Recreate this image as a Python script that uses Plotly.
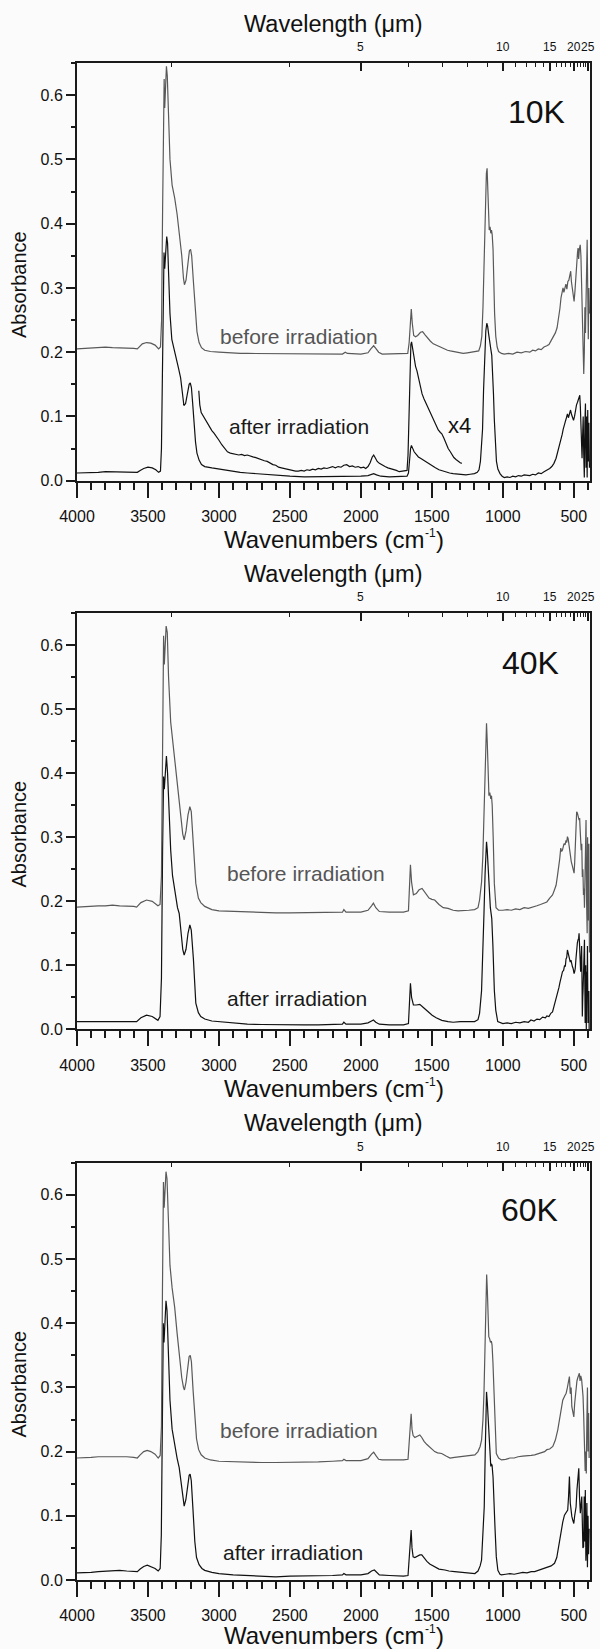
import plotly.graph_objects as go

# ---------------- data ----------------
WN_10K_BEFORE = [4000,3950,3900,3850,3800,3750,3700,3650,3600,3575,3560,3540,3510,3480,3450,3425,3412,3404,3397,3390,3386,3382,3377,3370,3364,3356,3345,3330,3312,3295,3278,3262,3250,3243,3232,3220,3208,3200,3192,3180,3168,3155,3140,3123,3100,3060,3000,2950,2900,2850,2800,2700,2600,2500,2400,2300,2200,2130,2110,2095,2000,1950,1930,1910,1895,1875,1850,1800,1750,1700,1670,1660,1652,1645,1638,1628,1615,1600,1580,1565,1548,1530,1510,1490,1470,1450,1430,1410,1390,1370,1350,1330,1300,1280,1250,1220,1190,1170,1158,1148,1140,1132,1124,1116,1111,1106,1101,1096,1090,1085,1080,1075,1069,1064,1058,1050,1040,1030,1010,990,960,930,900,870,840,810,790,770,750,730,710,690,675,660,645,630,618,608,598,590,582,576,570,563,556,549,542,535,528,522,517,511,505,498,492,486,480,474,470,466,461,455,450,446,442,438,434,430,426,422,418,414,410,406,402,398,394,390]
ABS_10K_BEFORE = [0.205,0.206,0.207,0.207,0.208,0.207,0.207,0.206,0.206,0.205,0.209,0.213,0.215,0.214,0.211,0.205,0.208,0.25,0.42,0.60,0.625,0.58,0.61,0.645,0.63,0.56,0.50,0.46,0.44,0.415,0.385,0.35,0.315,0.305,0.312,0.335,0.358,0.36,0.35,0.31,0.265,0.232,0.215,0.207,0.203,0.201,0.2,0.199,0.199,0.198,0.198,0.198,0.197,0.197,0.197,0.197,0.197,0.197,0.2,0.198,0.197,0.199,0.205,0.21,0.206,0.2,0.197,0.197,0.197,0.197,0.198,0.215,0.25,0.267,0.245,0.226,0.224,0.226,0.231,0.232,0.227,0.222,0.217,0.213,0.211,0.208,0.207,0.205,0.203,0.202,0.201,0.2,0.198,0.198,0.199,0.2,0.201,0.202,0.21,0.225,0.27,0.35,0.43,0.478,0.486,0.46,0.42,0.39,0.395,0.385,0.39,0.383,0.36,0.31,0.26,0.225,0.208,0.201,0.198,0.197,0.198,0.197,0.2,0.199,0.201,0.2,0.203,0.202,0.205,0.204,0.208,0.21,0.212,0.218,0.223,0.23,0.238,0.25,0.268,0.285,0.297,0.3,0.293,0.3,0.306,0.298,0.31,0.312,0.322,0.326,0.31,0.3,0.288,0.279,0.295,0.32,0.34,0.355,0.362,0.345,0.36,0.367,0.35,0.32,0.28,0.23,0.19,0.166,0.2,0.27,0.23,0.3,0.35,0.375,0.3,0.22,0.3,0.26]

WN_10K_AFTER = [4000,3950,3900,3850,3800,3750,3700,3650,3600,3575,3555,3530,3500,3470,3445,3425,3412,3405,3398,3392,3387,3382,3376,3368,3362,3355,3345,3332,3318,3300,3285,3270,3258,3247,3235,3222,3210,3202,3194,3185,3175,3165,3155,3140,3123,3100,3050,3000,2950,2900,2850,2800,2750,2700,2650,2600,2550,2500,2400,2300,2200,2100,2000,1950,1925,1910,1890,1860,1800,1750,1700,1675,1665,1657,1650,1644,1636,1625,1610,1595,1580,1560,1540,1520,1500,1475,1450,1425,1400,1375,1350,1320,1290,1260,1230,1200,1180,1168,1158,1150,1143,1136,1128,1120,1113,1107,1100,1092,1085,1078,1072,1066,1060,1053,1045,1035,1020,1005,990,970,950,930,910,890,870,850,830,810,790,770,750,730,710,690,670,655,640,625,612,600,590,582,575,568,560,552,545,538,530,523,516,509,502,495,488,481,474,468,462,458,454,450,446,442,438,434,430,426,422,418,414,410,406,402,398,394,390]
ABS_10K_AFTER = [0.012,0.012,0.013,0.013,0.014,0.014,0.014,0.013,0.013,0.013,0.016,0.019,0.021,0.02,0.017,0.013,0.015,0.05,0.17,0.30,0.355,0.33,0.35,0.38,0.37,0.32,0.26,0.22,0.205,0.19,0.175,0.16,0.135,0.117,0.12,0.138,0.15,0.152,0.145,0.12,0.085,0.06,0.043,0.032,0.025,0.022,0.02,0.018,0.017,0.015,0.013,0.012,0.011,0.01,0.009,0.008,0.007,0.007,0.006,0.006,0.006,0.007,0.007,0.008,0.01,0.011,0.009,0.007,0.006,0.006,0.006,0.007,0.012,0.035,0.05,0.055,0.05,0.045,0.041,0.037,0.035,0.032,0.029,0.026,0.024,0.02,0.017,0.015,0.013,0.012,0.011,0.01,0.009,0.009,0.01,0.011,0.013,0.017,0.03,0.05,0.08,0.14,0.2,0.233,0.245,0.24,0.228,0.212,0.205,0.195,0.17,0.135,0.095,0.055,0.03,0.018,0.011,0.007,0.005,0.006,0.005,0.007,0.006,0.008,0.007,0.009,0.008,0.008,0.01,0.009,0.012,0.011,0.014,0.016,0.019,0.022,0.027,0.035,0.045,0.057,0.066,0.072,0.08,0.088,0.092,0.098,0.104,0.098,0.106,0.11,0.103,0.098,0.094,0.1,0.11,0.118,0.122,0.126,0.13,0.133,0.115,0.09,0.065,0.035,0.07,0.1,0.04,0.005,0.09,0.12,0.02,0.1,0.005,0.11,0.03,0.09,0.02]

WN_10K_X4 = [3142,3135,3125,3110,3095,3080,3065,3050,3035,3020,3000,2980,2960,2940,2920,2900,2880,2860,2840,2820,2800,2780,2761,2740,2720,2700,2680,2660,2640,2620,2600,2580,2560,2540,2520,2500,2480,2460,2440,2420,2400,2380,2360,2340,2320,2300,2280,2260,2240,2220,2200,2180,2160,2140,2120,2100,2080,2060,2040,2020,2000,1980,1966,1950,1935,1920,1910,1900,1885,1870,1850,1830,1810,1790,1770,1750,1730,1710,1690,1675,1668,1661,1655,1648,1643,1635,1625,1615,1605,1595,1585,1575,1569,1555,1540,1525,1510,1499,1485,1470,1455,1440,1430,1415,1400,1385,1370,1359,1345,1330,1315,1300,1289]
ABS_10K_X4 = [0.14,0.118,0.106,0.1,0.095,0.09,0.083,0.078,0.074,0.07,0.063,0.056,0.05,0.045,0.043,0.042,0.041,0.04,0.041,0.039,0.04,0.038,0.037,0.036,0.034,0.033,0.031,0.03,0.027,0.025,0.024,0.021,0.02,0.019,0.017,0.016,0.016,0.015,0.015,0.016,0.015,0.017,0.016,0.018,0.017,0.019,0.018,0.02,0.019,0.021,0.022,0.02,0.022,0.021,0.024,0.025,0.022,0.023,0.021,0.022,0.02,0.021,0.019,0.022,0.028,0.037,0.04,0.036,0.03,0.027,0.024,0.022,0.02,0.019,0.017,0.016,0.014,0.015,0.016,0.016,0.04,0.12,0.19,0.212,0.216,0.205,0.19,0.178,0.171,0.162,0.15,0.14,0.135,0.127,0.12,0.112,0.105,0.099,0.092,0.085,0.079,0.075,0.073,0.066,0.058,0.05,0.045,0.04,0.036,0.033,0.03,0.028,0.027]

WN_40K_BEFORE = [4000,3950,3900,3850,3800,3750,3700,3650,3600,3580,3550,3510,3470,3430,3415,3405,3397,3390,3385,3380,3372,3364,3355,3340,3327,3310,3292,3270,3255,3245,3232,3218,3205,3195,3180,3163,3145,3128,3100,3050,3000,2900,2800,2700,2600,2500,2400,2300,2200,2130,2120,2105,2000,1950,1925,1912,1895,1870,1800,1700,1665,1657,1651,1643,1630,1610,1590,1569,1550,1520,1500,1480,1450,1420,1386,1350,1316,1280,1240,1199,1175,1164,1150,1141,1130,1120,1115,1110,1103,1098,1092,1085,1080,1075,1068,1060,1048,1030,1000,970,940,910,880,850,820,802,780,760,735,708,690,670,650,638,625,615,605,600,592,586,580,575,569,562,555,550,545,540,535,530,525,518,510,504,498,494,490,487,484,480,475,470,466,463,459,455,451,448,444,440,436,432,428,425,420,417,414,410,406,403,400,397,394,390]
ABS_40K_BEFORE = [0.191,0.192,0.192,0.193,0.193,0.194,0.193,0.193,0.192,0.191,0.198,0.202,0.2,0.193,0.195,0.24,0.45,0.615,0.57,0.60,0.63,0.62,0.55,0.48,0.452,0.42,0.375,0.33,0.305,0.296,0.31,0.335,0.348,0.34,0.29,0.228,0.205,0.198,0.192,0.187,0.185,0.184,0.183,0.183,0.182,0.182,0.182,0.182,0.182,0.183,0.187,0.183,0.183,0.186,0.193,0.197,0.19,0.184,0.183,0.183,0.185,0.22,0.257,0.23,0.21,0.212,0.218,0.22,0.214,0.205,0.203,0.202,0.195,0.19,0.189,0.186,0.185,0.186,0.186,0.187,0.19,0.202,0.23,0.27,0.37,0.45,0.478,0.45,0.38,0.365,0.37,0.36,0.365,0.35,0.30,0.228,0.19,0.186,0.186,0.187,0.186,0.188,0.187,0.19,0.189,0.19,0.192,0.193,0.195,0.197,0.199,0.205,0.21,0.217,0.225,0.24,0.255,0.265,0.283,0.278,0.28,0.285,0.29,0.288,0.295,0.292,0.301,0.298,0.29,0.282,0.27,0.262,0.255,0.25,0.244,0.26,0.28,0.31,0.33,0.34,0.338,0.335,0.33,0.327,0.33,0.31,0.3,0.28,0.29,0.238,0.25,0.21,0.22,0.19,0.25,0.3,0.327,0.2,0.15,0.3,0.25,0.17,0.29,0.12]

WN_40K_AFTER = [4000,3950,3900,3850,3800,3750,3700,3650,3600,3580,3550,3510,3470,3430,3415,3405,3397,3390,3385,3380,3370,3362,3352,3340,3327,3310,3292,3280,3265,3255,3245,3232,3218,3205,3195,3180,3163,3145,3128,3100,3050,3000,2900,2800,2700,2600,2500,2400,2300,2200,2130,2120,2105,2000,1950,1925,1912,1895,1870,1800,1700,1665,1657,1651,1643,1630,1610,1585,1560,1530,1498,1470,1430,1386,1350,1300,1250,1199,1175,1164,1150,1141,1133,1125,1118,1115,1110,1100,1095,1088,1082,1078,1070,1060,1050,1036,1000,970,940,910,880,850,820,802,780,760,740,720,700,690,675,662,650,640,630,620,612,605,598,592,585,580,572,565,560,555,550,545,540,535,530,525,520,515,510,505,498,494,490,485,480,475,470,466,463,458,455,452,448,445,442,440,437,435,432,430,427,425,422,420,418,416,414,412,410,408,406,404,402,400,398,396,394,392]
ABS_40K_AFTER = [0.012,0.012,0.012,0.013,0.013,0.013,0.013,0.013,0.012,0.012,0.018,0.022,0.02,0.014,0.02,0.08,0.28,0.395,0.375,0.40,0.427,0.40,0.34,0.28,0.24,0.215,0.19,0.181,0.15,0.125,0.116,0.125,0.15,0.163,0.155,0.11,0.041,0.026,0.02,0.016,0.013,0.012,0.0095,0.008,0.0075,0.007,0.007,0.007,0.007,0.007,0.008,0.011,0.008,0.008,0.01,0.013,0.0146,0.011,0.008,0.007,0.007,0.009,0.04,0.072,0.05,0.038,0.038,0.039,0.034,0.028,0.022,0.018,0.014,0.012,0.011,0.012,0.012,0.012,0.015,0.025,0.06,0.113,0.18,0.244,0.285,0.293,0.28,0.235,0.218,0.19,0.18,0.173,0.13,0.061,0.03,0.012,0.009,0.01,0.009,0.011,0.01,0.012,0.011,0.0146,0.013,0.016,0.015,0.019,0.018,0.021,0.02,0.025,0.027,0.035,0.042,0.05,0.058,0.065,0.073,0.082,0.085,0.09,0.092,0.1,0.098,0.11,0.112,0.124,0.118,0.115,0.112,0.105,0.108,0.1,0.098,0.095,0.087,0.09,0.095,0.11,0.13,0.135,0.14,0.142,0.15,0.12,0.1,0.09,0.11,0.13,0.07,0.02,0.05,0.06,0.09,0.1,0.12,0.14,0.06,0.01,0.05,0.1,0.04,0.0,0.05,0.09,0.07,0.13,0.06,0.01,0.03,0.04,0.06,0.0]

WN_60K_BEFORE = [4000,3950,3900,3850,3800,3750,3700,3650,3600,3575,3555,3530,3505,3480,3450,3428,3414,3405,3398,3391,3386,3381,3373,3366,3357,3345,3330,3312,3295,3278,3262,3250,3243,3232,3220,3210,3202,3194,3182,3170,3158,3143,3125,3100,3060,3000,2900,2800,2700,2600,2500,2400,2300,2200,2130,2120,2105,2000,1950,1925,1910,1895,1875,1850,1800,1750,1700,1668,1658,1651,1646,1640,1632,1620,1600,1585,1571,1555,1535,1515,1501,1480,1460,1431,1400,1372,1340,1310,1291,1260,1230,1197,1175,1160,1150,1140,1133,1127,1120,1114,1109,1104,1099,1093,1087,1081,1076,1070,1064,1057,1050,1046,1030,1010,980,950,920,893,860,830,800,776,750,720,706,690,670,648,630,613,600,590,578,566,554,545,537,531,525,519,514,507,500,494,488,484,478,472,466,461,456,451,445,440,435,431,428,424,420,416,412,408,404,400,396,392]
ABS_60K_BEFORE = [0.19,0.19,0.191,0.192,0.192,0.193,0.192,0.192,0.191,0.19,0.195,0.2,0.202,0.2,0.196,0.19,0.194,0.24,0.45,0.62,0.58,0.60,0.636,0.625,0.56,0.49,0.455,0.425,0.385,0.345,0.315,0.3,0.296,0.308,0.33,0.348,0.35,0.34,0.295,0.25,0.22,0.203,0.195,0.19,0.187,0.185,0.184,0.184,0.183,0.183,0.183,0.184,0.184,0.185,0.186,0.188,0.186,0.186,0.189,0.196,0.199,0.194,0.188,0.187,0.187,0.186,0.187,0.188,0.22,0.255,0.259,0.235,0.225,0.222,0.224,0.226,0.222,0.216,0.211,0.207,0.205,0.2,0.198,0.197,0.193,0.19,0.191,0.192,0.192,0.193,0.194,0.195,0.2,0.208,0.218,0.25,0.29,0.35,0.43,0.476,0.45,0.41,0.379,0.376,0.37,0.372,0.366,0.34,0.3,0.24,0.21,0.197,0.19,0.187,0.188,0.19,0.19,0.192,0.193,0.193,0.194,0.195,0.197,0.199,0.2,0.203,0.204,0.208,0.218,0.234,0.252,0.266,0.28,0.286,0.291,0.3,0.31,0.317,0.29,0.3,0.27,0.262,0.254,0.275,0.29,0.296,0.31,0.315,0.32,0.322,0.31,0.318,0.312,0.3,0.286,0.26,0.218,0.19,0.17,0.2,0.166,0.25,0.3,0.2,0.26,0.19]

WN_60K_AFTER = [4000,3950,3900,3850,3800,3750,3700,3650,3600,3575,3555,3530,3505,3480,3450,3428,3414,3406,3399,3392,3387,3381,3373,3366,3357,3345,3330,3312,3295,3280,3266,3255,3245,3233,3220,3210,3203,3195,3183,3170,3158,3140,3120,3100,3050,3000,2900,2800,2700,2646,2600,2500,2400,2300,2200,2130,2120,2105,2000,1950,1925,1905,1890,1870,1800,1750,1700,1668,1658,1652,1646,1640,1632,1620,1600,1585,1571,1555,1535,1515,1501,1480,1450,1408,1380,1340,1291,1250,1197,1175,1160,1150,1140,1131,1124,1118,1115,1109,1104,1099,1092,1085,1080,1076,1069,1062,1055,1046,1035,1020,1010,980,950,920,893,860,830,800,776,750,730,706,685,660,636,620,610,601,590,578,566,555,543,537,531,525,519,514,507,500,494,488,484,478,472,465,460,454,448,444,440,436,431,427,423,419,415,412,408,404,400,396,392]
ABS_60K_AFTER = [0.011,0.011,0.012,0.013,0.014,0.015,0.015,0.014,0.013,0.013,0.017,0.021,0.023,0.021,0.018,0.014,0.018,0.07,0.26,0.4,0.37,0.40,0.435,0.42,0.35,0.28,0.235,0.21,0.19,0.175,0.15,0.125,0.115,0.125,0.15,0.163,0.165,0.155,0.11,0.06,0.035,0.024,0.018,0.015,0.012,0.01,0.008,0.007,0.006,0.005,0.005,0.006,0.006,0.007,0.007,0.008,0.01,0.008,0.008,0.01,0.014,0.0156,0.012,0.008,0.007,0.006,0.006,0.007,0.04,0.07,0.078,0.05,0.036,0.035,0.037,0.039,0.039,0.034,0.029,0.025,0.023,0.02,0.017,0.0156,0.014,0.013,0.012,0.011,0.01,0.014,0.022,0.031,0.07,0.114,0.2,0.27,0.293,0.275,0.252,0.239,0.2,0.177,0.18,0.179,0.16,0.13,0.08,0.036,0.015,0.009,0.008,0.009,0.01,0.009,0.01,0.012,0.011,0.013,0.013,0.015,0.016,0.018,0.019,0.022,0.026,0.035,0.048,0.062,0.078,0.09,0.101,0.106,0.109,0.13,0.161,0.12,0.105,0.099,0.093,0.088,0.1,0.11,0.114,0.14,0.16,0.174,0.13,0.104,0.12,0.13,0.09,0.05,0.052,0.13,0.06,0.14,0.03,0.047,0.12,0.02,0.1,0.04,0.08]

PANEL_LABELS = ["10K", "40K", "60K"]
X_MAJOR = [4000, 3500, 3000, 2500, 2000, 1500, 1000, 500]
WL_MAJOR = [5, 10, 15, 20, 25]
WL_MINOR = [3, 4, 6, 7, 8, 9, 11, 12, 13, 14, 16, 17, 18, 19, 21, 22, 23, 24]

# ---------------- layout geometry ----------------
W, H = 600, 1649
ML, MR, MT, MB = 77, 8, 63, 69
PW, PH = W - ML - MR, H - MT - MB
BOTTOM_PX = MT + PH


def xp(px):
    return (px - ML) / PW


def yp(py):
    return (BOTTOM_PX - py) / PH


PANELS = [(63, 480.7), (613.3, 1029.3), (1162.7, 1580)]
X_RANGE = [4000, 386]
Y_RANGE = [0, 0.65]
FONT = "Liberation Sans, Arial, sans-serif"
AX = "#1a1a1a"
BEFORE_C = "#595959"
AFTER_C = "#111111"
BG = "#fbfbfb"

# x-axis title pieces (main text, raised exponent, closing bracket); widths from Arial metrics
TITLE_SIZE, SUP_SIZE = 24, 12
TITLE_START = 224.0
MAIN_W = 8.39 * TITLE_SIZE
SUP_W = 0.889 * SUP_SIZE
TITLE_CENTERS = [539.5, 1088.1, 1635.5]

series = [
    (WN_10K_BEFORE, ABS_10K_BEFORE, WN_10K_AFTER, ABS_10K_AFTER),
    (WN_40K_BEFORE, ABS_40K_BEFORE, WN_40K_AFTER, ABS_40K_AFTER),
    (WN_60K_BEFORE, ABS_60K_BEFORE, WN_60K_AFTER, ABS_60K_AFTER),
]

fig = go.Figure()
layout = dict(
    width=W, height=H, margin=dict(l=ML, r=MR, t=MT, b=MB),
    paper_bgcolor=BG, plot_bgcolor=BG, showlegend=False,
    font=dict(family=FONT, color="#111"),
)

annotations = []
for i, (top_px, bot_px) in enumerate(PANELS):
    n = i + 1
    nt = i + 4
    xb = "x" if n == 1 else f"x{n}"
    yb = "y" if n == 1 else f"y{n}"
    xt = f"x{nt}"
    dom = [yp(bot_px), yp(top_px)]
    wb, ab, wa, aa = series[i]

    # before irradiation drawn against the top (wavelength) axis, which shares the bottom axis range
    fig.add_trace(go.Scatter(x=wb, y=ab, mode="lines", xaxis=xt, yaxis=yb,
                             line=dict(color=BEFORE_C, width=1.2), hoverinfo="skip"))
    fig.add_trace(go.Scatter(x=wa, y=aa, mode="lines", xaxis=xb, yaxis=yb,
                             line=dict(color=AFTER_C, width=1.2), hoverinfo="skip"))
    if n == 1:
        fig.add_trace(go.Scatter(x=WN_10K_X4, y=ABS_10K_X4, mode="lines", xaxis=xb, yaxis=yb,
                                 line=dict(color=AFTER_C, width=1.2), hoverinfo="skip"))

    xkey = "xaxis" if n == 1 else f"xaxis{n}"
    ykey = "yaxis" if n == 1 else f"yaxis{n}"
    layout[xkey] = dict(
        domain=[0, 1], anchor=yb, range=X_RANGE, showgrid=False, zeroline=False,
        showline=True, linewidth=2, linecolor=AX,
        ticks="outside", ticklen=15, tickwidth=1.5, tickcolor=AX,
        tickmode="array", tickvals=X_MAJOR, ticktext=[str(v) for v in X_MAJOR],
        tickangle=0, ticklabeloverflow="allow",
        tickfont=dict(size=16, family=FONT, color="#111"), ticklabelstandoff=5,
        minor=dict(ticks="outside", ticklen=7, tickwidth=1.5, tickcolor=AX,
                   tickmode="linear", tick0=0, dtick=100, showgrid=False),
    )
    layout[f"xaxis{nt}"] = dict(
        overlaying=xb, anchor=yb, side="top", range=X_RANGE, showgrid=False, zeroline=False,
        showline=True, linewidth=2, linecolor=AX,
        ticks="inside", ticklen=8, tickwidth=1.5, tickcolor=AX,
        tickmode="array", tickvals=[1e4 / w for w in WL_MAJOR],
        showticklabels=False,
        minor=dict(ticks="inside", ticklen=4, tickwidth=1.2, tickcolor=AX,
                   tickmode="array", tickvals=[1e4 / w for w in WL_MINOR], showgrid=False),
    )
    layout[ykey] = dict(
        domain=dom, anchor=xb, range=Y_RANGE, showgrid=False, zeroline=False,
        showline=True, linewidth=2, linecolor=AX, mirror=True,
        ticks="outside", ticklen=9, tickwidth=1.5, tickcolor=AX,
        tickmode="linear", tick0=0, dtick=0.1, tickformat=".1f",
        tickfont=dict(size=16, family=FONT, color="#111"),
        minor=dict(ticks="outside", ticklen=4, tickwidth=1.5, tickcolor=AX,
                   tickmode="linear", tick0=0, dtick=0.05, showgrid=False),
    )

    # wavelength tick labels of the top axis
    for w in WL_MAJOR:
        annotations.append(dict(text=str(w), x=1e4 / w, xref=xb, y=yp(top_px - 16),
                                font=dict(size=12, family=FONT, color="#111")))

    mid = (top_px + bot_px) / 2
    tc = TITLE_CENTERS[i]
    annotations += [
        dict(text="Wavelength (μm)", x=xp(334.5), y=yp(top_px - 39.3),
             font=dict(size=23.5, family=FONT, color="#111")),
        dict(text="Wavenumbers (cm", x=xp(TITLE_START), y=yp(tc), xanchor="left",
             font=dict(size=TITLE_SIZE, family=FONT, color="#111")),
        dict(text="-1", x=xp(TITLE_START + MAIN_W), y=yp(tc - 6.5), xanchor="left",
             font=dict(size=SUP_SIZE, family=FONT, color="#111")),
        dict(text=")", x=xp(TITLE_START + MAIN_W + SUP_W + 0.5), y=yp(tc), xanchor="left",
             font=dict(size=TITLE_SIZE, family=FONT, color="#111")),
        dict(text="Absorbance", x=xp(19), y=yp(mid + 13), textangle=-90,
             font=dict(size=20, family=FONT, color="#111")),
    ]

label_pos = [(538.3, 111.7), (532.5, 663.3), (530.8, 1210)]
before_pos = [(220, 336.7), (226.7, 873.3), (220, 1430)]
after_pos = [(228.3, 426.7), (226.7, 998.3), (223, 1552.3)]
for i in range(3):
    annotations.append(dict(text=PANEL_LABELS[i], x=xp(label_pos[i][0]), y=yp(label_pos[i][1]),
                            font=dict(size=32, family=FONT, color="#111")))
    annotations.append(dict(text="before irradiation", x=xp(before_pos[i][0]), y=yp(before_pos[i][1]),
                            xanchor="left", font=dict(size=21, family=FONT, color="#555")))
    annotations.append(dict(text="after irradiation", x=xp(after_pos[i][0]), y=yp(after_pos[i][1]),
                            xanchor="left", font=dict(size=21, family=FONT, color="#1a1a1a")))
annotations.append(dict(text="x4", x=xp(461), y=yp(425.7),
                        font=dict(size=22, family=FONT, color="#111")))

for a in annotations:
    a.setdefault("xref", "paper")
    a.setdefault("yref", "paper")
    a.setdefault("showarrow", False)
    a.setdefault("xanchor", "center")
    a.setdefault("yanchor", "middle")
    a.setdefault("borderpad", 0)
layout["annotations"] = annotations

fig.update_layout(**layout)

# remove the default page margin so the 600x1649 figure fills the window exactly
PAGE_JS = ("document.body.style.margin='0';document.body.style.padding='0';"
           "document.body.style.overflow='hidden';"
           "document.documentElement.style.overflow='hidden';")
fig.write_html("out.html", post_script=PAGE_JS, config={"displayModeBar": False})
